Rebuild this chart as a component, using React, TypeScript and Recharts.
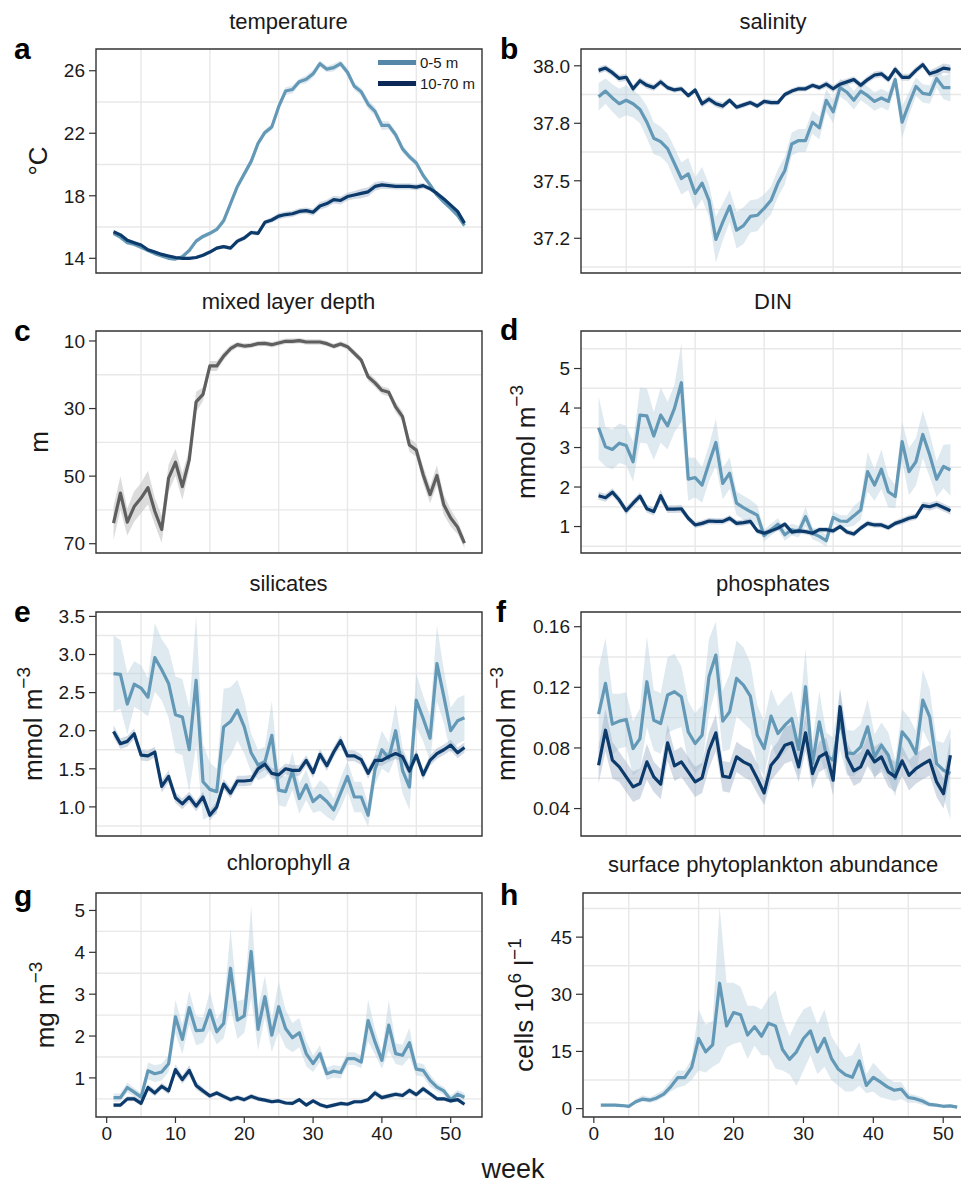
import * as React from 'react';
import {
  Area,
  CartesianGrid,
  ComposedChart,
  Line,
  ReferenceArea,
  XAxis,
  YAxis,
} from 'recharts';

const FONT = '"Liberation Sans", Arial, Helvetica, sans-serif';

const LIGHT = '#6399b6';
const DARK = '#0b3a6b';
const LIGHT_BAND = '#b9cedd';
const DARK_BAND = '#8ea4be';
const GREY = '#5f5f5f';

// ---- data ----
const weeks = [
  1, 2, 3, 4, 5, 6, 7, 8, 9, 10, 11, 12, 13, 14, 15, 16, 17, 18, 19, 20, 21, 22, 23, 24, 25, 26,
  27, 28, 29, 30, 31, 32, 33, 34, 35, 36, 37, 38, 39, 40, 41, 42, 43, 44, 45, 46, 47, 48, 49, 50,
  51, 52,
];
const weekTicks = [0, 10, 20, 30, 40, 50];
const weekGrid = [5, 15, 25, 35, 45];

// temperature (°C)
const tempSurf = [
  15.6, 15.35, 15.0, 14.9, 14.7, 14.5, 14.3, 14.15, 14.0, 13.95, 14.1, 14.5, 15.1, 15.4, 15.6,
  15.85, 16.4, 17.5, 18.6, 19.4, 20.2, 21.35, 22.05, 22.4, 23.7, 24.7, 24.8, 25.3, 25.45, 25.8,
  26.45, 26.1, 26.2, 26.45, 25.9, 25.0, 24.65, 23.85, 23.4, 22.5, 22.5, 21.9, 21.0, 20.5, 20.1,
  19.3, 18.7, 18.05, 17.6, 17.2, 16.75, 16.1,
];
const tempSurfSe = [
  0.15, 0.15, 0.12, 0.15, 0.12, 0.1, 0.1, 0.1, 0.1, 0.1, 0.12, 0.12, 0.15, 0.15, 0.15, 0.15, 0.2,
  0.2, 0.2, 0.2, 0.25, 0.2, 0.2, 0.2, 0.25, 0.25, 0.25, 0.2, 0.25, 0.25, 0.2, 0.2, 0.25, 0.2, 0.25,
  0.25, 0.25, 0.3, 0.3, 0.3, 0.25, 0.25, 0.25, 0.2, 0.2, 0.2, 0.2, 0.15, 0.15, 0.15, 0.15, 0.15,
];
const tempDeep = [
  15.7, 15.5, 15.15, 15.0, 14.85, 14.55, 14.4, 14.25, 14.15, 14.05, 14.0, 14.0, 14.05, 14.2, 14.4,
  14.65, 14.75, 14.65, 15.1, 15.3, 15.65, 15.6, 16.3, 16.45, 16.7, 16.8, 16.85, 17.0, 17.05, 16.95,
  17.35, 17.5, 17.75, 17.7, 17.95, 18.05, 18.15, 18.25, 18.6, 18.7, 18.65, 18.6, 18.6, 18.6, 18.55,
  18.65, 18.45, 18.15, 17.8, 17.4, 17.0, 16.25,
];
const tempDeepSe = [
  0.12, 0.1, 0.1, 0.12, 0.1, 0.1, 0.1, 0.1, 0.1, 0.1, 0.1, 0.1, 0.1, 0.12, 0.12, 0.12, 0.12, 0.12,
  0.15, 0.15, 0.15, 0.15, 0.15, 0.18, 0.2, 0.2, 0.2, 0.2, 0.2, 0.22, 0.25, 0.25, 0.25, 0.25, 0.25,
  0.25, 0.3, 0.3, 0.28, 0.25, 0.22, 0.2, 0.2, 0.2, 0.2, 0.18, 0.15, 0.15, 0.15, 0.12, 0.12, 0.12,
];

// salinity
const salSurf = [
  37.865, 37.89, 37.86, 37.835, 37.85, 37.835, 37.81, 37.755, 37.685, 37.67, 37.64, 37.575, 37.51,
  37.53, 37.445, 37.49, 37.415, 37.245, 37.32, 37.39, 37.285, 37.305, 37.345, 37.35, 37.38, 37.415,
  37.49, 37.545, 37.66, 37.675, 37.675, 37.755, 37.73, 37.85, 37.8, 37.905, 37.885, 37.85, 37.89,
  37.87, 37.845, 37.86, 37.845, 37.94, 37.755, 37.835, 37.91, 37.88, 37.875, 37.945, 37.905, 37.905,
];
const salSurfSe = [
  0.06, 0.055, 0.06, 0.065, 0.065, 0.06, 0.06, 0.07, 0.07, 0.065, 0.065, 0.07, 0.07, 0.07, 0.07,
  0.07, 0.07, 0.1, 0.08, 0.07, 0.08, 0.08, 0.07, 0.07, 0.06, 0.06, 0.06, 0.06, 0.05, 0.05, 0.05,
  0.05, 0.05, 0.05, 0.05, 0.04, 0.04, 0.04, 0.04, 0.04, 0.04, 0.04, 0.04, 0.03, 0.07, 0.05, 0.04,
  0.04, 0.04, 0.04, 0.05, 0.06,
];
const salDeep = [
  37.98, 37.99, 37.97, 37.945, 37.95, 37.9, 37.935, 37.915, 37.905, 37.93, 37.905, 37.895, 37.9,
  37.87, 37.895, 37.835, 37.855, 37.835, 37.825, 37.85, 37.82, 37.83, 37.84, 37.825, 37.845, 37.84,
  37.84, 37.875, 37.89, 37.9, 37.9, 37.915, 37.905, 37.92, 37.9, 37.92, 37.93, 37.94, 37.915, 37.94,
  37.96, 37.965, 37.94, 37.985, 37.95, 37.95, 37.98, 38.005, 37.965, 37.975, 37.99, 37.985,
];
const salDeepSe = [
  0.015, 0.015, 0.015, 0.015, 0.015, 0.015, 0.015, 0.015, 0.015, 0.015, 0.012, 0.012, 0.012, 0.012,
  0.012, 0.015, 0.015, 0.015, 0.015, 0.012, 0.012, 0.012, 0.012, 0.012, 0.012, 0.012, 0.012, 0.012,
  0.012, 0.012, 0.012, 0.012, 0.012, 0.015, 0.015, 0.015, 0.015, 0.015, 0.015, 0.015, 0.015, 0.015,
  0.015, 0.015, 0.015, 0.015, 0.015, 0.015, 0.015, 0.02, 0.02, 0.02,
];

// mixed layer depth (m)
const mld = [
  63.9, 55.0, 63.6, 59.0, 56.5, 53.4, 60.4, 65.8, 50.6, 45.9, 53.1, 45.2, 28.0, 25.8, 17.4, 17.4,
  14.5, 12.3, 11.1, 11.5, 11.3, 10.8, 10.7, 11.1, 10.6, 10.1, 10.1, 9.9, 10.3, 10.3, 10.3, 10.8,
  11.6, 10.9, 11.7, 13.7, 15.7, 20.6, 22.4, 24.6, 25.2, 29.5, 32.4, 40.8, 42.3, 49.6, 55.5, 49.8,
  58.5, 62.4, 65.1, 69.8,
];
const mldSe = [
  5, 5, 4, 4.5, 4.5, 5, 4, 4, 4, 4, 4, 3, 3, 2, 1.5, 1.5, 1.2, 1, 0.8, 0.8, 0.8, 0.8, 0.8, 0.8, 0.8,
  0.8, 0.8, 0.8, 0.8, 0.8, 0.8, 0.8, 0.8, 0.8, 0.8, 1, 1, 1.2, 1.2, 1.2, 1.2, 1.5, 1.5, 2, 2, 2.5,
  2.5, 3, 3, 2.5, 2, 1.5,
];

// DIN (mmol m-3)
const dinSurf = [
  3.5, 3.02, 2.95, 3.11, 3.05, 2.64, 3.82, 3.8, 3.29, 3.82, 3.55, 3.99, 4.64, 2.2, 2.24, 2.05, 2.6,
  3.13, 2.09, 2.35, 1.59, 1.48, 1.38, 1.29, 0.77, 0.92, 1.06, 0.79, 0.92, 0.87, 1.25, 0.83, 0.75,
  0.64, 1.23, 1.14, 1.13, 1.27, 1.42, 2.39, 2.05, 2.45, 1.88, 1.76, 3.15, 2.39, 2.64, 3.33, 2.81,
  2.2, 2.52, 2.43,
];
const dinSurfSe = [
  0.8, 0.5, 0.5, 0.5, 0.5, 0.5, 0.7, 0.7, 0.6, 0.7, 0.6, 0.6, 1.0, 0.55, 0.5, 0.45, 0.45, 0.6, 0.4,
  0.4, 0.3, 0.3, 0.3, 0.25, 0.15, 0.15, 0.15, 0.15, 0.15, 0.15, 0.25, 0.15, 0.15, 0.15, 0.15, 0.15,
  0.15, 0.25, 0.25, 0.5, 0.4, 0.5, 0.4, 0.3, 0.5, 0.6, 0.6, 0.6, 0.55, 0.45, 0.55, 0.65,
];
const dinDeep = [
  1.78, 1.73, 1.87, 1.67, 1.4, 1.59, 1.77, 1.45, 1.38, 1.78, 1.44, 1.44, 1.45, 1.21, 1.04, 1.08,
  1.14, 1.13, 1.13, 1.21, 1.08, 1.1, 1.13, 0.89, 0.83, 0.89, 0.96, 1.06, 0.86, 0.89, 0.87, 0.83,
  0.92, 0.92, 0.89, 1.0, 0.86, 0.81, 0.96, 1.08, 1.04, 1.04, 0.97, 1.08, 1.14, 1.21, 1.25, 1.53,
  1.5, 1.56, 1.48, 1.4,
];
const dinDeepSe = [
  0.1, 0.1, 0.1, 0.1, 0.1, 0.1, 0.1, 0.1, 0.1, 0.15, 0.1, 0.1, 0.1, 0.08, 0.08, 0.08, 0.08, 0.08,
  0.08, 0.08, 0.08, 0.08, 0.08, 0.07, 0.07, 0.07, 0.07, 0.07, 0.07, 0.07, 0.07, 0.07, 0.07, 0.07,
  0.07, 0.07, 0.07, 0.07, 0.07, 0.07, 0.07, 0.07, 0.07, 0.07, 0.08, 0.08, 0.08, 0.1, 0.1, 0.1, 0.1,
  0.1,
];

// silicates (mmol m-3)
const silSurf = [
  2.75, 2.74, 2.35, 2.61, 2.56, 2.44, 2.96, 2.8, 2.62, 2.21, 2.18, 1.75, 2.66, 1.33, 1.23, 1.2, 2.05,
  2.12, 2.27, 2.05, 1.71, 1.55, 1.59, 1.94, 1.22, 1.2, 1.47, 1.11, 1.29, 1.07, 1.15, 1.07, 0.96,
  1.18, 1.4, 1.13, 1.13, 0.89, 1.49, 1.75, 1.64, 2.0, 1.48, 1.26, 2.4, 2.16, 1.9, 2.88, 2.45, 2.0,
  2.13, 2.17,
];
const silSurfSe = [
  0.5, 0.45, 0.4, 0.3, 0.3, 0.25, 0.45, 0.4, 0.45, 0.5, 0.5, 0.55, 0.85, 0.5, 0.35, 0.3, 0.5, 0.45,
  0.4, 0.35, 0.25, 0.2, 0.2, 0.45, 0.2, 0.2, 0.25, 0.2, 0.2, 0.15, 0.2, 0.2, 0.15, 0.2, 0.2, 0.2,
  0.2, 0.15, 0.2, 0.25, 0.2, 0.35, 0.3, 0.3, 0.35, 0.3, 0.3, 0.5, 0.35, 0.3, 0.3, 0.3,
];
const silDeep = [
  1.99, 1.83, 1.86, 1.96, 1.68, 1.67, 1.72, 1.27, 1.4, 1.12, 1.04, 1.13, 1.01, 1.13, 0.89, 1.0, 1.3,
  1.18, 1.34, 1.34, 1.35, 1.5, 1.56, 1.44, 1.42, 1.5, 1.48, 1.48, 1.61, 1.45, 1.69, 1.54, 1.72,
  1.87, 1.67, 1.67, 1.62, 1.44, 1.61, 1.61, 1.66, 1.7, 1.66, 1.47, 1.68, 1.42, 1.61, 1.7, 1.75,
  1.81, 1.71, 1.78,
];
const silDeepSe = [
  0.08, 0.07, 0.07, 0.07, 0.07, 0.07, 0.07, 0.08, 0.08, 0.07, 0.07, 0.07, 0.07, 0.07, 0.07, 0.07,
  0.07, 0.07, 0.07, 0.07, 0.07, 0.07, 0.07, 0.07, 0.07, 0.07, 0.07, 0.07, 0.07, 0.07, 0.07, 0.07,
  0.07, 0.07, 0.07, 0.07, 0.07, 0.07, 0.07, 0.07, 0.07, 0.07, 0.07, 0.07, 0.07, 0.07, 0.07, 0.07,
  0.07, 0.07, 0.07, 0.07,
];

// phosphates (mmol m-3)
const phoSurf = [
  0.1023, 0.1226, 0.0957, 0.0977, 0.0988, 0.0796, 0.0862, 0.1237, 0.0983, 0.0961, 0.1149, 0.1171,
  0.1138, 0.0906, 0.0829, 0.0884, 0.127, 0.1413, 0.0977, 0.1039, 0.1259, 0.1215, 0.1142, 0.0884,
  0.0796, 0.101, 0.0895, 0.095, 0.0994, 0.079, 0.1204, 0.0697, 0.0972, 0.0752, 0.0719, 0.0988,
  0.0768, 0.0763, 0.0807, 0.0939, 0.0741, 0.0818, 0.0752, 0.0598, 0.0906, 0.0851, 0.0763, 0.1116,
  0.1005, 0.0697, 0.0653, 0.0631,
];
const phoSurfSe = [
  0.03, 0.03, 0.02, 0.018, 0.018, 0.018, 0.02, 0.03, 0.02, 0.02, 0.025, 0.025, 0.02, 0.02, 0.02,
  0.02, 0.025, 0.022, 0.02, 0.025, 0.025, 0.025, 0.022, 0.02, 0.018, 0.018, 0.018, 0.018, 0.018,
  0.018, 0.025, 0.015, 0.02, 0.015, 0.015, 0.02, 0.015, 0.015, 0.015, 0.018, 0.015, 0.015, 0.015,
  0.012, 0.015, 0.015, 0.015, 0.02, 0.018, 0.015, 0.018, 0.03,
];
const phoDeep = [
  0.0686, 0.0917, 0.0719, 0.0675, 0.0609, 0.0543, 0.0565, 0.0708, 0.0609, 0.0561, 0.0834, 0.0682,
  0.0708, 0.0642, 0.0576, 0.0603, 0.0785, 0.09, 0.0614, 0.0605, 0.0741, 0.0708, 0.0686, 0.0598,
  0.0503, 0.0686, 0.0741, 0.0818, 0.0834, 0.0675, 0.09, 0.0631, 0.0741, 0.0768, 0.0587, 0.1072,
  0.0741, 0.0649, 0.0675, 0.0781, 0.0708, 0.0741, 0.0642, 0.0609, 0.0715, 0.062, 0.0664, 0.0693,
  0.0719, 0.0576, 0.0499, 0.0752,
];
const phoDeepSe = [
  0.012, 0.014, 0.012, 0.01, 0.01, 0.01, 0.01, 0.012, 0.01, 0.01, 0.012, 0.01, 0.01, 0.01, 0.01,
  0.01, 0.012, 0.012, 0.01, 0.01, 0.01, 0.01, 0.01, 0.01, 0.008, 0.01, 0.01, 0.012, 0.012, 0.01,
  0.012, 0.01, 0.01, 0.01, 0.01, 0.012, 0.01, 0.01, 0.01, 0.01, 0.01, 0.01, 0.01, 0.01, 0.01, 0.01,
  0.01, 0.01, 0.01, 0.01, 0.01, 0.012,
];

// chlorophyll a (mg m-3)
const chlSurf = [
  0.53, 0.53, 0.77, 0.66, 0.54, 1.17, 1.1, 1.14, 1.34, 2.46, 1.92, 2.68, 2.13, 2.14, 2.62, 2.1, 2.3,
  3.62, 2.38, 2.48, 4.02, 2.16, 2.94, 2.02, 2.7, 2.18, 1.96, 2.08, 1.58, 1.34, 1.58, 1.1, 1.16, 1.13,
  1.46, 1.46, 1.38, 2.37, 1.86, 1.42, 2.26, 1.58, 1.54, 1.84, 1.21, 1.18, 0.94, 0.78, 0.69, 0.48,
  0.61, 0.54,
];
const chlSurfSe = [
  0.1, 0.1, 0.12, 0.1, 0.1, 0.2, 0.2, 0.2, 0.2, 0.4, 0.35, 0.4, 0.35, 0.3, 0.45, 0.3, 0.35, 0.95,
  0.45, 0.4, 1.1, 0.5, 0.5, 0.4, 0.6, 0.45, 0.35, 0.35, 0.3, 0.2, 0.2, 0.15, 0.15, 0.15, 0.15, 0.15,
  0.15, 0.5, 0.3, 0.2, 0.6, 0.25, 0.25, 0.35, 0.15, 0.15, 0.15, 0.1, 0.1, 0.1, 0.1, 0.1,
];
const chlDeep = [
  0.35, 0.35, 0.5, 0.5, 0.39, 0.77, 0.64, 0.8, 0.69, 1.2, 0.96, 1.18, 0.82, 0.69, 0.57, 0.64, 0.56,
  0.48, 0.53, 0.48, 0.56, 0.5, 0.47, 0.43, 0.45, 0.4, 0.39, 0.48, 0.35, 0.45, 0.36, 0.31, 0.35, 0.39,
  0.37, 0.43, 0.43, 0.48, 0.64, 0.53, 0.57, 0.61, 0.58, 0.7, 0.6, 0.74, 0.62, 0.5, 0.5, 0.45, 0.48,
  0.37,
];
const chlDeepSe = [
  0.05, 0.05, 0.06, 0.06, 0.06, 0.08, 0.08, 0.08, 0.08, 0.12, 0.1, 0.12, 0.1, 0.08, 0.06, 0.06,
  0.06, 0.06, 0.06, 0.06, 0.06, 0.06, 0.05, 0.05, 0.05, 0.05, 0.05, 0.05, 0.05, 0.05, 0.05, 0.05,
  0.05, 0.05, 0.05, 0.05, 0.05, 0.05, 0.08, 0.06, 0.06, 0.06, 0.06, 0.07, 0.06, 0.07, 0.06, 0.05,
  0.05, 0.05, 0.05, 0.05,
];

// surface phytoplankton abundance (cells 10^6 l-1)
const phyto = [
  0.9, 0.9, 0.9, 0.8, 0.6, 1.8, 2.5, 2.2, 2.8, 3.8, 5.7, 8.1, 8.1, 10.8, 18.4, 14.9, 16.7, 32.9,
  21.7, 25.2, 24.6, 19.3, 21.5, 19.0, 22.4, 21.7, 15.5, 12.9, 14.9, 18.4, 20.4, 14.9, 18.4, 13.2,
  10.3, 8.9, 8.2, 12.5, 6.1, 8.2, 7.0, 5.7, 4.8, 5.1, 2.9, 2.6, 2.0, 1.1, 0.9, 0.6, 0.7, 0.4,
];
const phytoLo = [
  0.5, 0.5, 0.5, 0.5, 0.4, 1.2, 1.8, 1.5, 2.0, 3.0, 4.5, 5.5, 6.0, 7.5, 10.0, 9.5, 11.0, 12.0, 16.0,
  17.0, 17.5, 13.0, 16.5, 14.0, 14.0, 10.5, 10.0, 9.0, 6.0, 10.0, 14.0, 9.0, 11.0, 7.5, 6.0, 4.5,
  4.5, 6.0, 4.0, 4.5, 3.0, 2.5, 2.0, 2.5, 1.5, 1.5, 1.0, 0.5, 0.4, 0.3, 0.3, 0.2,
];
const phytoHi = [
  1.3, 1.3, 1.3, 1.2, 1.0, 2.5, 3.5, 3.0, 3.8, 5.0, 7.5, 10.0, 10.0, 13.0, 26.0, 22.0, 23.0, 53.0,
  33.0, 33.0, 32.0, 27.0, 27.0, 26.0, 29.0, 31.0, 24.0, 19.0, 23.0, 26.0, 27.0, 22.0, 26.0, 19.0,
  16.0, 13.5, 14.0, 17.5, 9.0, 12.0, 10.0, 8.0, 7.0, 7.0, 4.0, 3.5, 3.0, 1.8, 1.3, 1.0, 1.1, 0.8,
];

// ---- panel builder ----
type Series = {
  key: string;
  color: string;
  band: string;
  bandOpacity: number;
};

type PanelProps = {
  left: number;
  top: number;
  axisWidth: number;
  plotWidth: number;
  plotHeight: number;
  rows: Record<string, unknown>[];
  domain: [number, number];
  ticks: number[];
  labels?: string[];
  grid: number[];
  reversed?: boolean;
  series: Series[];
  showX?: boolean;
};

const X_DOMAIN: [number, number] = [-1.55, 54.55];
const TICK_STYLE = { fontSize: 19, fill: '#1a1a1a', fontFamily: FONT };

function Panel({
  left,
  top,
  axisWidth,
  plotWidth,
  plotHeight,
  rows,
  domain,
  ticks,
  labels,
  grid,
  reversed = false,
  series,
  showX = false,
}: PanelProps) {
  const mTop = 8;
  const mRight = 12;
  const xHeight = 40;
  const width = axisWidth + plotWidth + mRight;
  const height = mTop + plotHeight + (showX ? xHeight : 8);

  return (
    <div style={{ position: 'absolute', left: left - axisWidth, top: top - mTop }}>
      <ComposedChart
        width={width}
        height={height}
        data={rows}
        margin={{ top: mTop, right: mRight, bottom: showX ? 0 : 8, left: 0 }}
      >
        <CartesianGrid
          horizontalValues={grid}
          verticalValues={weekGrid}
          stroke="#e8e8e8"
          strokeWidth={1.4}
        />
        <XAxis
          dataKey="week"
          type="number"
          domain={X_DOMAIN}
          ticks={weekTicks}
          interval={0}
          allowDataOverflow
          hide={!showX}
          height={xHeight}
          tickSize={6}
          tickMargin={4}
          axisLine={false}
          tickLine={{ stroke: '#333', strokeWidth: 1.2 }}
          tick={TICK_STYLE}
        />
        <YAxis
          type="number"
          domain={domain}
          ticks={ticks}
          interval={0}
          reversed={reversed}
          allowDataOverflow
          width={axisWidth}
          tickSize={7}
          tickMargin={4}
          axisLine={false}
          tickLine={{ stroke: '#333', strokeWidth: 1.2 }}
          tick={TICK_STYLE}
          tickFormatter={(v: number) => (labels ? labels[ticks.indexOf(v)] ?? String(v) : String(v))}
        />
        {series.map((s) => (
          <Area
            key={`${s.key}-band`}
            type="linear"
            dataKey={`${s.key}Band`}
            stroke="none"
            fill={s.band}
            fillOpacity={s.bandOpacity}
            dot={false}
            activeDot={false}
            isAnimationActive={false}
          />
        ))}
        {series.map((s) => (
          <Line
            key={s.key}
            type="linear"
            dataKey={s.key}
            stroke={s.color}
            strokeWidth={3.2}
            strokeLinejoin="round"
            dot={false}
            activeDot={false}
            isAnimationActive={false}
          />
        ))}
        <ReferenceArea
          x1={X_DOMAIN[0]}
          x2={X_DOMAIN[1]}
          y1={domain[0]}
          y2={domain[1]}
          fill="none"
          stroke="#333"
          strokeWidth={1.4}
          ifOverflow="visible"
        />
      </ComposedChart>
    </div>
  );
}

function twoLayer(surf: number[], surfSe: number[], deep: number[], deepSe: number[]) {
  return weeks.map((week, i) => ({
    week,
    surf: surf[i],
    surfBand: [surf[i] - surfSe[i], surf[i] + surfSe[i]],
    deep: deep[i],
    deepBand: [deep[i] - deepSe[i], deep[i] + deepSe[i]],
  }));
}

const bothLayers: Series[] = [
  { key: 'surf', color: LIGHT, band: LIGHT_BAND, bandOpacity: 0.45 },
  { key: 'deep', color: DARK, band: DARK_BAND, bandOpacity: 0.4 },
];

const tempRows = twoLayer(tempSurf, tempSurfSe, tempDeep, tempDeepSe);
const salRows = twoLayer(salSurf, salSurfSe, salDeep, salDeepSe);
const dinRows = twoLayer(dinSurf, dinSurfSe, dinDeep, dinDeepSe);
const silRows = twoLayer(silSurf, silSurfSe, silDeep, silDeepSe);
const phoRows = twoLayer(phoSurf, phoSurfSe, phoDeep, phoDeepSe);
const chlRows = twoLayer(chlSurf, chlSurfSe, chlDeep, chlDeepSe);
const mldRows = weeks.map((week, i) => ({
  week,
  mld: mld[i],
  mldBand: [mld[i] - mldSe[i], mld[i] + mldSe[i]],
}));
const phytoRows = weeks.map((week, i) => ({
  week,
  surf: phyto[i],
  surfBand: [phytoLo[i], phytoHi[i]],
}));

const LEFT_X = 96;
const LEFT_W = 386;
const RIGHT_X = 581;
const RIGHT_W = 387;

function YTitle({ x, y, children }: { x: number; y: number; children: React.ReactNode }) {
  return (
    <text
      transform={`translate(${x},${y}) rotate(-90)`}
      textAnchor="middle"
      fontSize={26}
      fill="#1a1a1a"
    >
      {children}
    </text>
  );
}

export default function App() {
  const sup = (s: string) => (
    <tspan dy={-12} fontSize={19}>
      {s}
    </tspan>
  );

  return (
    <div
      style={{
        position: 'absolute',
        left: 0,
        top: 0,
        width: 961,
        height: 1185,
        overflow: 'hidden',
        background: '#fff',
        fontFamily: FONT,
      }}
    >
      <Panel left={LEFT_X} top={49} axisWidth={LEFT_X} plotWidth={LEFT_W} plotHeight={224}
        rows={tempRows} domain={[13.06, 27.39]} ticks={[14, 18, 22, 26]} grid={[16, 20, 24]}
        series={bothLayers} />
      <Panel left={RIGHT_X} top={49} axisWidth={100} plotWidth={RIGHT_W} plotHeight={224}
        rows={salRows} domain={[37.099, 38.073]} ticks={[37.25, 37.5, 37.75, 38]}
        labels={['37.2', '37.5', '37.8', '38.0']} grid={[37.125, 37.375, 37.625, 37.875]}
        series={bothLayers} />
      <Panel left={LEFT_X} top={331} axisWidth={LEFT_X} plotWidth={LEFT_W} plotHeight={222}
        rows={mldRows} domain={[7.05, 72.75]} ticks={[10, 30, 50, 70]} grid={[20, 40, 60]}
        reversed series={[{ key: 'mld', color: GREY, band: '#c4c4c4', bandOpacity: 0.6 }]} />
      <Panel left={RIGHT_X} top={331} axisWidth={100} plotWidth={RIGHT_W} plotHeight={222}
        rows={dinRows} domain={[0.33, 5.95]} ticks={[1, 2, 3, 4, 5]}
        grid={[0.5, 1.5, 2.5, 3.5, 4.5, 5.5]} series={bothLayers} />
      <Panel left={LEFT_X} top={612} axisWidth={LEFT_X} plotWidth={LEFT_W} plotHeight={224}
        rows={silRows} domain={[0.618, 3.558]} ticks={[1, 1.5, 2, 2.5, 3, 3.5]}
        labels={['1.0', '1.5', '2.0', '2.5', '3.0', '3.5']}
        grid={[0.75, 1.25, 1.75, 2.25, 2.75, 3.25]} series={bothLayers} />
      <Panel left={RIGHT_X} top={612} axisWidth={100} plotWidth={RIGHT_W} plotHeight={224}
        rows={phoRows} domain={[0.0219, 0.1697]} ticks={[0.04, 0.08, 0.12, 0.16]}
        labels={['0.04', '0.08', '0.12', '0.16']} grid={[0.06, 0.1, 0.14]} series={bothLayers} />
      <Panel left={LEFT_X} top={893} axisWidth={LEFT_X} plotWidth={LEFT_W} plotHeight={224}
        rows={chlRows} domain={[0.066, 5.417]} ticks={[1, 2, 3, 4, 5]}
        grid={[0.5, 1.5, 2.5, 3.5, 4.5]} series={bothLayers} showX />
      <Panel left={583} top={893} axisWidth={102} plotWidth={392} plotHeight={224}
        rows={phytoRows} domain={[-2.21, 56.58]} ticks={[0, 15, 30, 45]}
        grid={[7.5, 22.5, 37.5, 52.5]} series={[bothLayers[0]]} showX />

      <svg
        width={961}
        height={1185}
        style={{ position: 'absolute', left: 0, top: 0, pointerEvents: 'none' }}
        fontFamily={FONT}
      >
        <g fontSize={22} fill="#1a1a1a" textAnchor="middle">
          <text x={288.5} y={28.5}>temperature</text>
          <text x={773} y={28.5}>salinity</text>
          <text x={288.5} y={309}>mixed layer depth</text>
          <text x={773} y={309}>DIN</text>
          <text x={288.5} y={590.5}>silicates</text>
          <text x={773} y={590.5}>phosphates</text>
          <text x={288.5} y={870}>
            chlorophyll <tspan fontStyle="italic">a</tspan>
          </text>
          <text x={773} y={871.5}>surface phytoplankton abundance</text>
        </g>
        <g fontSize={30} fontWeight="bold" fill="#000">
          <text x={14} y={59}>a</text>
          <text x={500} y={59}>b</text>
          <text x={14} y={341}>c</text>
          <text x={500} y={340}>d</text>
          <text x={14} y={622}>e</text>
          <text x={496} y={622}>f</text>
          <text x={14} y={906}>g</text>
          <text x={500} y={905}>h</text>
        </g>
        <YTitle x={47} y={161}>°C</YTitle>
        <YTitle x={48} y={442}>m</YTitle>
        <YTitle x={42} y={724}>mmol m{sup('−3')}</YTitle>
        <YTitle x={54} y={1005}>mg m{sup('−3')}</YTitle>
        <YTitle x={535} y={442}>mmol m{sup('−3')}</YTitle>
        <YTitle x={515} y={724}>mmol m{sup('−3')}</YTitle>
        <YTitle x={533} y={1005}>
          cells 10{sup('6')}
          <tspan dy={12}> l</tspan>
          {sup('−1')}
        </YTitle>
        <text x={513} y={1178} fontSize={27} textAnchor="middle" fill="#1a1a1a">
          week
        </text>
        <g fontSize={15} fill="#1a1a1a">
          <rect x={378} y={60} width={38} height={5} fill="#5687a8" />
          <text x={420} y={68}>0-5 m</text>
          <rect x={378} y={81} width={38} height={5} fill="#0b2856" />
          <text x={420} y={89}>10-70 m</text>
        </g>
      </svg>
    </div>
  );
}
